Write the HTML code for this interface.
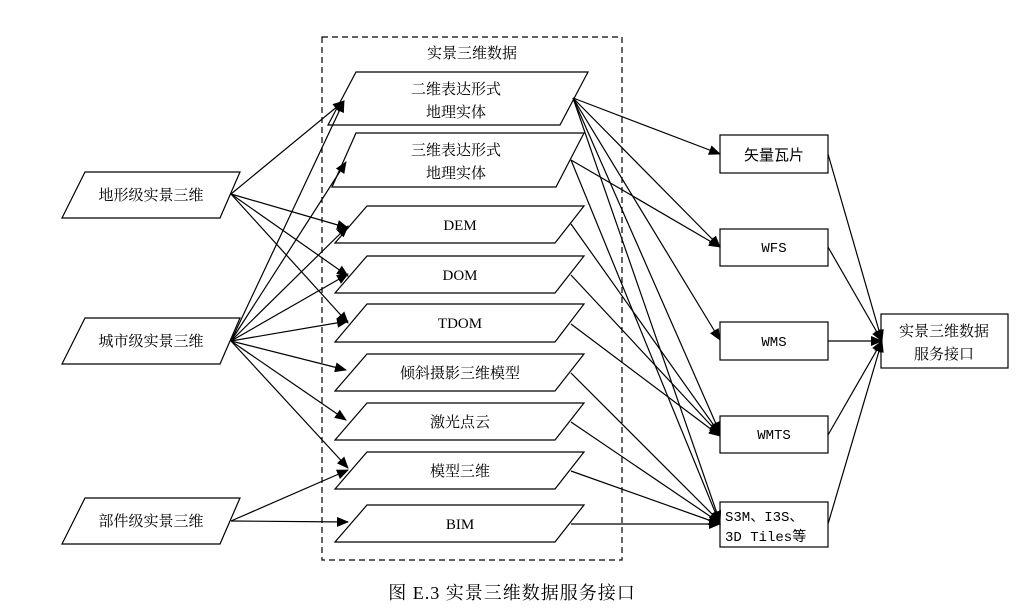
<!DOCTYPE html>
<html><head><meta charset="utf-8"><style>
html,body{margin:0;padding:0;background:#fff;}
svg{display:block;}
text{font-family:"Liberation Serif","Noto Serif CJK SC",serif;fill:#000;}
.m text{font-family:"Liberation Mono","Noto Sans CJK SC",monospace;font-size:14px;}
</style></head><body>
<svg width="1024" height="613" viewBox="0 0 1024 613" xmlns="http://www.w3.org/2000/svg">
<defs><marker id="a" markerWidth="12" markerHeight="10" refX="11" refY="5" orient="auto" markerUnits="userSpaceOnUse"><path d="M0,0 L12,5 L0,10 z" fill="#000"/></marker></defs>
<rect x="322" y="37" width="300" height="523" fill="none" stroke="#000" stroke-width="1.2" stroke-dasharray="6,4"/>
<text x="472" y="58" font-size="15" text-anchor="middle">实景三维数据</text>
<g fill="#fff" stroke="#000" stroke-width="1.2">
<polygon points="356,72 588,72 560,125 328,125"/>
<polygon points="356,133 584,133 556,187 332,187"/>
<polygon points="367,206 584,206 555,243 335,243"/>
<polygon points="367,256 584,256 555,293 335,293"/>
<polygon points="367,304 584,304 555,342 335,342"/>
<polygon points="367,354 584,354 555,391 335,391"/>
<polygon points="367,403 584,403 555,440 335,440"/>
<polygon points="367,452 584,452 555,489 335,489"/>
<polygon points="367,505 584,505 555,542 335,542"/>
<polygon points="85,172 240,172 220,218 62,218"/>
<polygon points="85,318 240,318 220,364 62,364"/>
<polygon points="85,498 240,498 220,544 62,544"/>
<rect x="720" y="135" width="108" height="38"/>
<rect x="720" y="229" width="108" height="37"/>
<rect x="720" y="322" width="108" height="38"/>
<rect x="720" y="416" width="108" height="37"/>
<rect x="720" y="502" width="108" height="45"/>
<rect x="881" y="314" width="127" height="54"/>
</g>
<g font-size="15" text-anchor="middle">
<text x="456" y="94">二维表达形式</text><text x="456" y="117">地理实体</text>
<text x="456" y="155">三维表达形式</text><text x="456" y="178">地理实体</text>
<text x="460" y="230">DEM</text><text x="460" y="280">DOM</text><text x="460" y="328">TDOM</text>
<text x="460" y="378">倾斜摄影三维模型</text><text x="460" y="427">激光点云</text>
<text x="460" y="476">模型三维</text><text x="460" y="529">BIM</text>
<text x="151" y="200">地形级实景三维</text><text x="151" y="346">城市级实景三维</text><text x="151" y="526">部件级实景三维</text>
<text x="944" y="336">实景三维数据</text><text x="944" y="359">服务接口</text>
</g>
<g class="m" text-anchor="middle">
<text x="774" y="160" style="font-size:15px">矢量瓦片</text>
<text x="774" y="252">WFS</text><text x="774" y="346">WMS</text><text x="774" y="439">WMTS</text>
<text x="725" y="521" text-anchor="start">S3M、I3S、</text><text x="725" y="541" text-anchor="start">3D Tiles等</text>
</g>
<g stroke="#000" stroke-width="1.2" fill="none" marker-end="url(#a)">
<line x1="231" y1="194" x2="344" y2="101"/>
<line x1="231" y1="194" x2="348" y2="228"/>
<line x1="231" y1="194" x2="348" y2="276"/>
<line x1="231" y1="194" x2="348" y2="323"/>
<line x1="231" y1="341" x2="344" y2="101"/>
<line x1="231" y1="341" x2="346" y2="162"/>
<line x1="231" y1="341" x2="348" y2="226"/>
<line x1="231" y1="341" x2="348" y2="274"/>
<line x1="231" y1="341" x2="348" y2="321"/>
<line x1="231" y1="341" x2="346" y2="370"/>
<line x1="231" y1="341" x2="346" y2="420"/>
<line x1="231" y1="341" x2="348" y2="468"/>
<line x1="231" y1="521" x2="348" y2="470"/>
<line x1="231" y1="521" x2="348" y2="522"/>
<line x1="573" y1="98" x2="720" y2="154"/>
<line x1="573" y1="98" x2="720" y2="247"/>
<line x1="573" y1="98" x2="720" y2="340"/>
<line x1="573" y1="98" x2="720" y2="433"/>
<line x1="573" y1="98" x2="720" y2="522"/>
<line x1="571" y1="160" x2="720" y2="247"/>
<line x1="571" y1="160" x2="720" y2="524"/>
<line x1="571" y1="224" x2="720" y2="434"/>
<line x1="571" y1="275" x2="720" y2="435"/>
<line x1="571" y1="324" x2="720" y2="436"/>
<line x1="571" y1="373" x2="720" y2="522"/>
<line x1="571" y1="422" x2="720" y2="523"/>
<line x1="571" y1="471" x2="720" y2="524"/>
<line x1="571" y1="524" x2="720" y2="524"/>
<line x1="828" y1="154" x2="882" y2="341"/>
<line x1="828" y1="247" x2="882" y2="341"/>
<line x1="828" y1="341" x2="882" y2="341"/>
<line x1="828" y1="435" x2="882" y2="341"/>
<line x1="828" y1="524" x2="882" y2="341"/>
</g>
<text x="512" y="599" font-size="18" text-anchor="middle" letter-spacing="1">图 E.3  实景三维数据服务接口</text>
</svg>
</body></html>
